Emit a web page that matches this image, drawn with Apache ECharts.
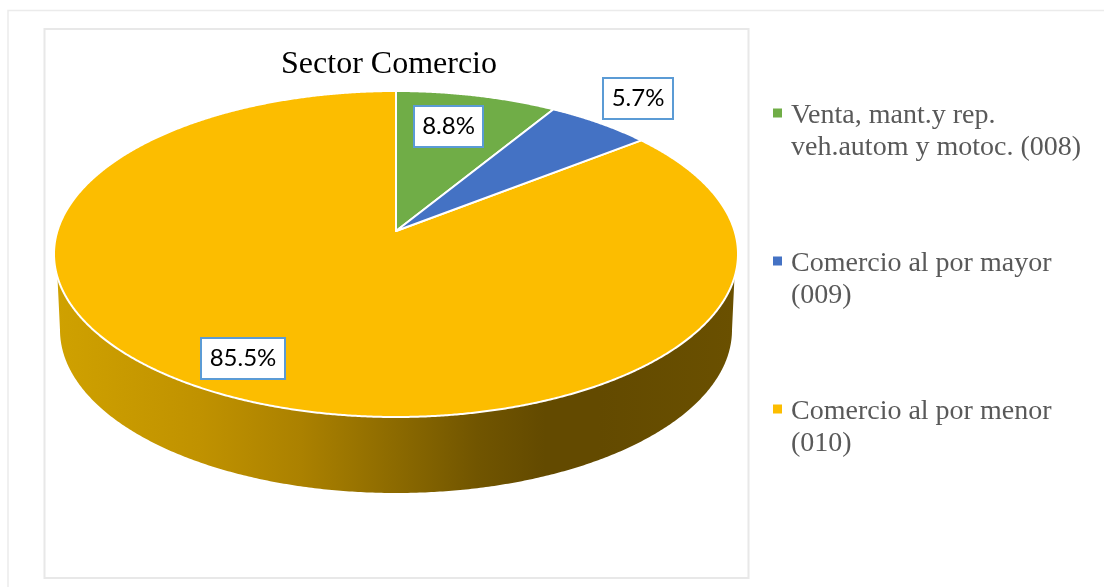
<!DOCTYPE html>
<html>
<head>
<meta charset="utf-8">
<title>Sector Comercio</title>
<script src="https://cdn.jsdelivr.net/npm/echarts@6/dist/echarts.min.js"></script>
<style>
  html, body { margin: 0; padding: 0; background: #fff; }
  #chart { width: 1104px; height: 587px; }
</style>
</head>
<body>
<div id="chart"></div>
<script>
// chart data
const titleText = 'Sector Comercio';
const categories = ['Venta, mant.y rep.\nveh.autom y motoc. (008)', 'Comercio al por mayor\n(009)', 'Comercio al por menor\n(010)'];
const values = [8.8, 5.7, 85.5];
const colors = ['#70ad47', '#4472c4', '#fcbd00'];

// geometry of the tilted disc (top face, apex sits above the ellipse centre)
const disc = { cx: 396, cy: 254, rx: 342, ry: 163, apexUp: 23 };
const low = { cx: 396, cy: 330, rx: 336, ry: 163 };
const wallStartY = 277;
// label boxes: centre x, centre y, width, height
const labelBoxes = [[448.5, 126.5, 69, 41], [638, 98.5, 70, 41], [243, 358.5, 84, 41]];

const total = values.reduce((a, b) => a + b, 0);

// point on the rim for an angle seen from the apex
function rimPoint(t) {
  const k = disc.apexUp / disc.ry;
  const c = Math.cos(t), s = Math.sin(t);
  const d = -k * c + Math.sqrt(k * k * c * c - k * k + 1);
  return [disc.cx + disc.rx * d * s, disc.cy + disc.ry * (-k - d * c)];
}

function sliceRange(i) {
  let before = 0;
  for (let j = 0; j < i; j++) before += values[j];
  return [before / total * Math.PI * 2, (before + values[i]) / total * Math.PI * 2];
}

const wallFill = new echarts.graphic.LinearGradient(0, 0, 1, 0, [
  { offset: 0, color: '#cfa100' },
  { offset: 0.21, color: '#c09200' },
  { offset: 0.36, color: '#ab8100' },
  { offset: 0.5, color: '#8c6a00' },
  { offset: 0.62, color: '#715500' },
  { offset: 0.72, color: '#634a00' },
  { offset: 0.8, color: '#634a00' },
  { offset: 1, color: '#6a5000' }
]);

function renderSlice(i) {
  const range = sliceRange(i);
  const rim = [];
  const steps = Math.ceil((range[1] - range[0]) / 0.005);
  for (let n = 0; n <= steps; n++) {
    rim.push(rimPoint(range[0] + (range[1] - range[0]) * n / steps));
  }
  const children = [];

  // side wall, only where the rim faces the viewer
  const front = rim.filter(p => p[1] >= wallStartY);
  if (front.length) {
    const wall = front.slice();
    for (let n = 0; n <= 360; n++) {
      const a = Math.PI * 1.5 - Math.PI * n / 360;
      wall.push([low.cx + low.rx * Math.sin(a), low.cy - low.ry * Math.cos(a)]);
    }
    children.push({ type: 'polygon', shape: { points: wall }, style: { fill: wallFill } });
  }

  children.push({
    type: 'polygon',
    shape: { points: [[disc.cx, disc.cy - disc.apexUp]].concat(rim) },
    style: { fill: colors[i], stroke: '#fff', lineWidth: 2, lineJoin: 'round' }
  });
  return { type: 'group', children: children };
}

function renderLabel(i) {
  const box = labelBoxes[i];
  return {
    type: 'group',
    children: [
      {
        type: 'rect',
        shape: { x: box[0] - box[2] / 2, y: box[1] - box[3] / 2, width: box[2], height: box[3] },
        style: { fill: '#fff', stroke: '#5b9bd5', lineWidth: 2 }
      },
      {
        type: 'text',
        x: box[0],
        y: box[1],
        style: {
          text: values[i].toFixed(1) + '%',
          fill: '#000',
          font: '24px Lato',
          align: 'center',
          verticalAlign: 'middle'
        }
      }
    ]
  };
}

const series = categories.map((name, i) => ({
  type: 'custom',
  name: name,
  coordinateSystem: 'none',
  silent: true,
  animation: false,
  z: i === 2 ? 2 : 3,
  itemStyle: { color: colors[i] },
  data: [values[i]],
  renderItem: () => renderSlice(i)
}));

// labels go over all the slices
series.push({
  type: 'custom',
  name: 'labels',
  coordinateSystem: 'none',
  silent: true,
  animation: false,
  z: 5,
  data: values,
  renderItem: params => renderLabel(params.dataIndex)
});

const myChart = echarts.init(document.getElementById('chart'), null, { renderer: 'canvas' });
myChart.setOption({
  backgroundColor: '#fff',
  animation: false,
  title: {
    text: titleText,
    left: 384,
    top: 44,
    textAlign: 'center',
    textStyle: { fontFamily: 'Liberation Serif', fontSize: 32, fontWeight: 'normal', color: '#000' }
  },
  legend: {
    orient: 'vertical',
    left: 768,
    top: 95,
    data: categories,
    selectedMode: false,
    // square at the top of a taller box, so it lines up with the first text line
    icon: 'path://M0 0H9V9H0ZM0 47L0.01 47',
    itemWidth: 9,
    itemHeight: 47,
    itemGap: 84,
    itemStyle: { borderWidth: 0 },
    textStyle: {
      fontFamily: 'Liberation Serif',
      fontSize: 28,
      lineHeight: 32,
      color: '#595959',
      padding: [0, 0, 0, 4]
    }
  },
  graphic: [
    {
      type: 'rect',
      silent: true,
      shape: { x: 8, y: 10.5, width: 1200, height: 700 },
      style: { fill: 'none', stroke: '#ebebeb', lineWidth: 1.5 }
    },
    {
      type: 'rect',
      silent: true,
      shape: { x: 44.5, y: 29, width: 704, height: 549 },
      style: { fill: 'none', stroke: '#e8e8e8', lineWidth: 2 }
    }
  ],
  series: series
});
</script>
</body>
</html>
